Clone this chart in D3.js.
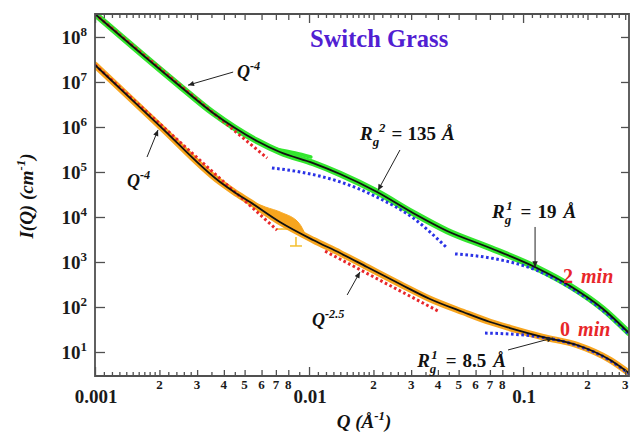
<!DOCTYPE html>
<html>
<head>
<meta charset="utf-8">
<script src="https://cdn.jsdelivr.net/npm/d3@7"></script>
<style>
  html, body { margin: 0; padding: 0; background: #fff; }
  svg { display: block; font-family: "Liberation Serif", "Times New Roman", serif; }
</style>
</head>
<body>
<svg id="chart" width="630" height="436"></svg>
<script>
// ---- SANS intensity I(Q) of switch grass, Q in 1/Å, I in 1/cm ----

// 2 min sample: measured curve (also traced by the unified fit)
const q2min = [0.00100, 0.00249, 0.00356, 0.00451, 0.00571, 0.00731, 0.01045, 0.01396,
               0.0208, 0.0306, 0.0442, 0.0702, 0.1161, 0.166, 0.2366, 0.3126];
const i2min = [3.24e8, 8.15e6, 2.05e6, 9.51e5, 4.89e5, 2.78e5, 1.58e5, 9.04e4,
               3.60e4, 1.23e4, 4.89e3, 2.05e3, 736, 293, 90.4, 26.4];
// 2 min: low-Q end of the second detector setting
const q2minOverlap = [0.00693, 0.00861, 0.0102];
const i2minOverlap = [3.24e5, 2.64e5, 2.15e5];

// 0 min sample
const q0min = [0.00100, 0.00201, 0.00384, 0.00447, 0.0053, 0.00731, 0.01045, 0.01396, 0.01866,
               0.02661, 0.03673, 0.05248, 0.0702, 0.0869, 0.1239, 0.1786, 0.2553, 0.3126];
const i0min = [2.39e7, 1.05e6, 6.0e4, 3.6e4, 2.15e4, 7.74e3, 3.08e3, 1.58e3, 774,
               324, 151, 77.4, 46.4, 34.1, 21.5, 14.3, 6.64, 3.41];
// 0 min: scatter of the second setting where both settings overlap
const q0minOverlap = [0.0053, 0.00625, 0.00745, 0.0090, 0.0096];
const i0minOverlapHi = [2.3e4, 1.67e4, 1.25e4, 7.2e3, 4.1e3];
const i0minOverlapLo = [2.15e4, 1.1e4, 6.64e3, 4.4e3, 3.8e3];
const qErr0min = [0.00745, 0.00869];
const iErr0minHi = [5.5e3, 3.6e3];
const iErr0minLo = [5.4e3, 2.27e3];

// Power-law components (red dotted)
const qPow2min = [0.00100, 0.00637];
const iPow2min = [3.24e8, 2.04e5];
const qPow0minA = [0.00100, 0.00708];
const iPow0minA = [2.39e7, 5.13e3];
const qPow0minB = [0.01189, 0.0401];
const iPow0minB = [1738, 81.3];

// Guinier components (blue dotted)
const qGui2minA = [0.00671, 0.00908, 0.01396, 0.0208, 0.0306, 0.0442];
const iGui2minA = [1.23e5, 1.00e5, 6.03e4, 2.75e4, 9.55e3, 2.04e3];
const qGui2minB = [0.0481, 0.0702, 0.1161, 0.166, 0.2366, 0.3126];
const iGui2minB = [1514, 1230, 650, 270, 83.2, 24.5];
const qGui0min = [0.0664, 0.0869, 0.1239, 0.1786, 0.2553, 0.3126];
const iGui0min = [26.3, 25.1, 21.1, 14.0, 6.46, 3.3];

// Axis ticks and labels
const qDomain = [0.001, 0.3126];
const iDomain = [2.93, 3.24e8];
const xMajorTicks = [0.001, 0.01, 0.1];
const xMajorLabels = ["0.001", "0.01", "0.1"];
const xMinorLabelled = [0.002, 0.003, 0.004, 0.005, 0.006, 0.007, 0.008,
                        0.02, 0.03, 0.04, 0.05, 0.06, 0.07, 0.08, 0.2, 0.3];
const xMinorLabels = ["2", "3", "4", "5", "6", "7", "8",
                      "2", "3", "4", "5", "6", "7", "8", "2", "3"];
const xFineMantissas = [1.1, 1.2, 1.3, 1.4, 1.5, 1.6, 1.7, 1.8, 1.9, 2.2, 2.4, 2.6, 2.8, 3.5, 4.5, 9];
const yTicks = [1e1, 1e2, 1e3, 1e4, 1e5, 1e6, 1e7, 1e8];
const yTickExponents = ["1", "2", "3", "4", "5", "6", "7", "8"];

// ---- drawing ----
const svg = d3.select("#chart");
const x = d3.scaleLog().domain(qDomain).range([95, 629]);
const y = d3.scaleLog().domain(iDomain).range([376, 14]);
const [x0, x1] = x.range();
const [y0, y1] = y.range();

const xFineTicks = [0.001, 0.01, 0.1].flatMap(d => xFineMantissas.map(m => +(d * m).toPrecision(3)))
  .filter(v => v > qDomain[0] && v < qDomain[1]);

const defs = svg.append("defs");
defs.append("clipPath").attr("id", "plot-clip")
  .append("rect").attr("x", x0).attr("y", y1).attr("width", x1 - x0).attr("height", y0 - y1);
defs.append("marker").attr("id", "arrowhead")
  .attr("viewBox", "0 0 10 10").attr("refX", 10).attr("refY", 5)
  .attr("markerWidth", 8).attr("markerHeight", 6).attr("markerUnits", "userSpaceOnUse")
  .attr("orient", "auto")
  .append("path").attr("d", "M0,0.5L10,5L0,9.5Z").attr("fill", "#222");

const line = d3.line().x(d => x(d[0])).y(d => y(d[1])).curve(d3.curveMonotoneX);
const zipQI = (q, i) => q.map((v, k) => [v, i[k]]);

const plot = svg.append("g").attr("clip-path", "url(#plot-clip)");
const orange = "#f7a51e", green = "#33e62e";

// overlap scatter of the 0 min sample
plot.append("path")
  .datum(q0minOverlap.map((q, k) => ({ q, hi: i0minOverlapHi[k], lo: i0minOverlapLo[k] })))
  .attr("d", d3.area().x(d => x(d.q)).y0(d => y(d.lo)).y1(d => y(d.hi)).curve(d3.curveMonotoneX))
  .attr("fill", orange).attr("stroke", orange).attr("stroke-width", 1).attr("stroke-linejoin", "round");
qErr0min.forEach((q, k) => {
  const g = plot.append("g").attr("stroke", "#f4bf2e").attr("stroke-width", 1.5);
  g.append("line").attr("x1", x(q)).attr("x2", x(q)).attr("y1", y(iErr0minHi[k])).attr("y2", y(iErr0minLo[k]));
  g.append("line").attr("x1", x(q) - 6).attr("x2", x(q) + 6).attr("y1", y(iErr0minLo[k])).attr("y2", y(iErr0minLo[k]));
});

// measured bands
const bands = [
  { q: q2min, i: i2min, color: green, w: 6.5 },
  { q: q2minOverlap, i: i2minOverlap, color: green, w: 3.5 },
  { q: q0min, i: i0min, color: orange, w: 6.5 }
];
bands.forEach(b => plot.append("path")
  .attr("d", line(zipQI(b.q, b.i)))
  .attr("fill", "none").attr("stroke", b.color).attr("stroke-width", b.w)
  .attr("stroke-linecap", "round").attr("stroke-linejoin", "round"));

// model components
const comps = [
  { q: qPow2min, i: iPow2min, color: "#e8262a" },
  { q: qPow0minA, i: iPow0minA, color: "#e8262a" },
  { q: qPow0minB, i: iPow0minB, color: "#e8262a" },
  { q: qGui2minA, i: iGui2minA, color: "#2a32e6" },
  { q: qGui2minB, i: iGui2minB, color: "#2a32e6" },
  { q: qGui0min, i: iGui0min, color: "#2a32e6" }
];
comps.forEach(c => plot.append("path")
  .attr("d", line(zipQI(c.q, c.i)))
  .attr("fill", "none").attr("stroke", c.color).attr("stroke-width", 3)
  .attr("stroke-dasharray", "2.6,2.6"));

// unified fits
[[q2min, i2min], [q0min, i0min]].forEach(([q, i]) => plot.append("path")
  .attr("d", line(zipQI(q, i)))
  .attr("fill", "none").attr("stroke", "#111").attr("stroke-width", 1.8));

// ---- axes ----
const axisColor = "#505050";
function styleAxis(g) {
  g.selectAll("path.domain").remove();
  g.selectAll(".tick line").attr("stroke", axisColor).attr("stroke-width", 1.3);
  g.selectAll(".tick text").remove();
}
const xTickSets = [
  { v: xMajorTicks, s: 9 },
  { v: xMinorLabelled, s: 6 },
  { v: xFineTicks, s: 4 }
];
xTickSets.forEach(t => {
  svg.append("g").attr("transform", `translate(0,${y0})`)
    .call(d3.axisBottom(x).tickValues(t.v).tickSizeInner(-t.s).tickSizeOuter(0)).call(styleAxis);
  svg.append("g").attr("transform", `translate(0,${y1})`)
    .call(d3.axisTop(x).tickValues(t.v).tickSizeInner(-t.s).tickSizeOuter(0)).call(styleAxis);
});
svg.append("g").attr("transform", `translate(${x0},0)`)
  .call(d3.axisLeft(y).tickValues(yTicks).tickSizeInner(-10).tickSizeOuter(0)).call(styleAxis);
svg.append("g").attr("transform", `translate(${x1},0)`)
  .call(d3.axisRight(y).tickValues(yTicks).tickSizeInner(-8).tickSizeOuter(0)).call(styleAxis);

// frame
svg.append("path")
  .attr("d", `M${x0},${y1}V${y0}H${x1}V${y1}Z`)
  .attr("fill", "none").attr("stroke", axisColor).attr("stroke-width", 1.8);

// tick labels
const lab = svg.append("g").attr("font-weight", "bold").attr("fill", "#1a1a1a");
xMajorTicks.forEach((v, k) => lab.append("text")
  .attr("x", x(v) + 1).attr("y", 403).attr("text-anchor", "middle")
  .attr("font-size", 19).text(xMajorLabels[k]));
xMinorLabelled.forEach((v, k) => lab.append("text")
  .attr("x", x(v)).attr("y", 389).attr("text-anchor", "middle")
  .attr("font-size", 13).text(xMinorLabels[k]));
yTicks.forEach((v, k) => {
  const t = lab.append("text").attr("x", 87).attr("y", y(v) + 7)
    .attr("text-anchor", "end").attr("font-size", 19);
  t.append("tspan").text("10");
  t.append("tspan").attr("dy", -8).attr("font-size", 13).text(yTickExponents[k]);
});

// rich text helper: parts are [text, kind, dx] with kind "", "i", "isup", "isub"
function rich(parent, px, py, size, parts, opts = {}) {
  const t = parent.append("text").attr("x", px).attr("y", py)
    .attr("font-size", size).attr("font-weight", "bold")
    .attr("fill", opts.fill || "#111")
    .attr("text-anchor", opts.anchor || "start");
  if (opts.rotate) t.attr("transform", `rotate(${opts.rotate},${px},${py})`);
  let shift = 0;
  parts.forEach(([txt, kind, dx]) => {
    const s = t.append("tspan").text(txt);
    let target = 0;
    if (kind.includes("sup")) target = -size * 0.42;
    if (kind.includes("sub")) target = size * 0.3;
    s.attr("dy", target - shift);
    shift = target;
    if (kind.includes("sup") || kind.includes("sub")) s.attr("font-size", size * 0.68);
    if (kind.startsWith("i")) s.attr("font-style", "italic");
    if (dx) s.attr("dx", dx);
  });
  return t;
}

// axis titles
rich(svg, 364, 428, 19, [["Q (Å", "i"], ["-1", "isup"], [")", "i"]], { anchor: "middle" });
rich(svg, 33, 196, 19, [["I(Q) (cm", "i"], ["-1", "isup"], [")", "i"]], { anchor: "middle", rotate: -90 });

// title
svg.append("text").attr("x", 310).attr("y", 47)
  .attr("font-size", 24.5).attr("font-weight", "bold").attr("fill", "#5120d2")
  .text("Switch Grass");

// ---- annotations (data coordinates) ----
const arrows = [
  { from: [0.00442, 1.66e7], to: [0.00272, 8.5e6] },
  { from: [0.00175, 2.15e5], to: [0.00197, 8.6e5] },
  { from: [0.01507, 185], to: [0.0173, 600] },
  { from: [0.0266, 3.08e5], to: [0.0210, 3.9e4] },
  { from: [0.1138, 6.0e3], to: [0.1138, 760] },
  { from: [0.0851, 11.1], to: [0.138, 20.5] }
];
arrows.forEach(a => svg.append("line")
  .attr("x1", x(a.from[0])).attr("y1", y(a.from[1]))
  .attr("x2", x(a.to[0])).attr("y2", y(a.to[1]))
  .attr("stroke", "#222").attr("stroke-width", 1)
  .attr("marker-end", "url(#arrowhead)"));

const ann = svg.append("g");
rich(ann, x(0.00461), y(1.23e7), 18, [["Q", "i"], ["-4", "isup"]]);
rich(ann, x(0.00141), y(4.64e4), 18, [["Q", "i"], ["-4", "isup"]]);
rich(ann, x(0.01033), y(37.8), 18, [["Q", "i"], ["-2.5", "isup"]]);
rich(ann, x(0.0173), y(5.14e5), 19,
  [["R", "i"], ["g", "isub"], ["2", "isup", 0], ["=", "", 6], ["135", "", 5], ["Å", "i", 6]]);
rich(ann, x(0.0716), y(9.5e3), 19,
  [["R", "i"], ["g", "isub"], ["1", "isup", -5], ["=", "", 8], ["19", "", 6], ["Å", "i", 7]]);
rich(ann, x(0.032), y(4.64), 19,
  [["R", "i"], ["g", "isub"], ["1", "isup", -5], ["=", "", 8], ["8.5", "", 6], ["Å", "i", 7]]);
rich(ann, x(0.1538), y(341), 20, [["2", ""], ["min", "i", 8]], { fill: "#e8262a" });
rich(ann, x(0.149), y(22.7), 20, [["0", ""], ["min", "i", 8]], { fill: "#e8262a" });
</script>
</body>
</html>
